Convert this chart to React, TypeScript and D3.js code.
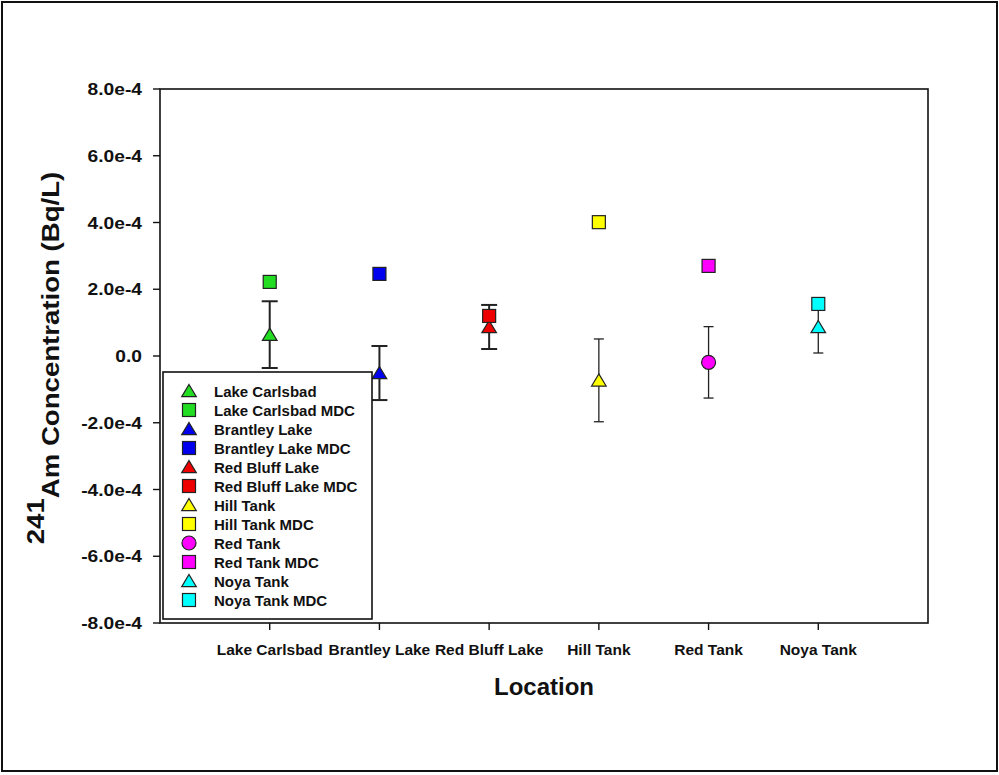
import React from "react";
import * as d3 from "d3";

const locations = ["Lake Carlsbad", "Brantley Lake", "Red Bluff Lake", "Hill Tank", "Red Tank", "Noya Tank"];
const measured = [0.64e-4, -0.51e-4, 0.87e-4, -0.73e-4, -0.19e-4, 0.87e-4];
const errors = [1.0e-4, 0.81e-4, 0.66e-4, 1.24e-4, 1.07e-4, 0.78e-4];
const mdc = [2.22e-4, 2.46e-4, 1.2e-4, 4.01e-4, 2.7e-4, 1.56e-4];
const colors = ["#22dd22", "#0000ee", "#ee0000", "#ffff00", "#ff00ff", "#00ffff"];
const shapes = ["triangle", "triangle", "triangle", "triangle", "circle", "triangle"];
const heavyBars = [true, true, true, false, false, false];
const yTicks = [-8e-4, -6e-4, -4e-4, -2e-4, 0, 2e-4, 4e-4, 6e-4, 8e-4];

const FONT = "'Liberation Sans', Arial, Helvetica, sans-serif";

function Marker({ shape, cx, cy, fill }: { shape: string; cx: number; cy: number; fill: string }) {
  const stroke = "#222";
  if (shape === "square") {
    return <rect x={cx - 6.5} y={cy - 6.5} width={13} height={13} fill={fill} stroke={stroke} strokeWidth={1.2} />;
  }
  if (shape === "circle") {
    return <circle cx={cx} cy={cy} r={7} fill={fill} stroke={stroke} strokeWidth={1.2} />;
  }
  const p = d3.path();
  p.moveTo(cx, cy - 6.5);
  p.lineTo(cx + 7.3, cy + 5.7);
  p.lineTo(cx - 7.3, cy + 5.7);
  p.closePath();
  return <path d={p.toString()} fill={fill} stroke={stroke} strokeWidth={1.2} />;
}

export default function App() {
  const W = 999, H = 775;
  const left = 160, right = 928, top = 89, bottom = 623;
  const x = d3.scaleLinear().domain([0, 7]).range([left, right]);
  const y = d3.scaleLinear().domain([-8e-4, 8e-4]).range([bottom, top]);
  const fmt = (v: number) => (Math.abs(v) < 1e-12 ? "0.0" : `${(v / 1e-4).toFixed(1)}e-4`);

  const legendItems: { label: string; shape: string; color: string }[] = [];
  locations.forEach((loc, i) => {
    legendItems.push({ label: loc, shape: shapes[i], color: colors[i] });
    legendItems.push({ label: loc + " MDC", shape: "square", color: colors[i] });
  });

  return (
    <svg width={W} height={H} style={{ position: "absolute", left: 0, top: 0, background: "#fff" }} fontFamily={FONT}>
      <rect x={2} y={2} width={995} height={769} fill="#fff" stroke="#111" strokeWidth={2} />
      {/* plot frame */}
      <rect x={left} y={top} width={right - left} height={bottom - top} fill="none" stroke="#111" strokeWidth={1.6} />
      {/* y ticks */}
      {yTicks.map((t, i) => (
        <g key={i}>
          <line x1={left - 7} x2={left} y1={y(t)} y2={y(t)} stroke="#111" strokeWidth={1.4} />
          <text
            transform={`translate(142,${y(t) + 6}) scale(1.2,1)`}
            textAnchor="end"
            fontSize={16}
            fontWeight="bold"
            fill="#111"
          >
            {fmt(t)}
          </text>
        </g>
      ))}
      {/* x ticks */}
      {locations.map((loc, i) => (
        <g key={loc}>
          <line x1={x(i + 1)} x2={x(i + 1)} y1={bottom} y2={bottom + 7} stroke="#111" strokeWidth={1.4} />
          <text x={x(i + 1)} y={655} textAnchor="middle" fontSize={15.5} fontWeight="bold" fill="#111">
            {loc}
          </text>
        </g>
      ))}
      {/* axis titles */}
      <text x={(left + right) / 2} y={695} textAnchor="middle" fontSize={24} fontWeight="bold" fill="#111">
        Location
      </text>
      <text
        transform={`translate(59,358) rotate(-90) scale(1.15,1)`}
        textAnchor="middle"
        fontSize={24}
        fontWeight="bold"
        fill="#111"
      >
        <tspan dy={-15}>241</tspan>
        <tspan dy={15}>Am Concentration (Bq/L)</tspan>
      </text>
      {/* data */}
      {locations.map((loc, i) => {
        const cx = x(i + 1);
        const sw = heavyBars[i] ? 2 : 1.3;
        const cw = heavyBars[i] ? 8 : 5;
        const y1 = y(measured[i] + errors[i]);
        const y2 = y(measured[i] - errors[i]);
        return (
          <g key={loc}>
            <line x1={cx} x2={cx} y1={y1} y2={y2} stroke="#222" strokeWidth={sw} />
            <line x1={cx - cw} x2={cx + cw} y1={y1} y2={y1} stroke="#222" strokeWidth={sw} />
            <line x1={cx - cw} x2={cx + cw} y1={y2} y2={y2} stroke="#222" strokeWidth={sw} />
            <Marker shape={shapes[i]} cx={cx} cy={y(measured[i])} fill={colors[i]} />
            <Marker shape="square" cx={cx} cy={y(mdc[i])} fill={colors[i]} />
          </g>
        );
      })}
      {/* legend */}
      <rect x={163} y={372} width={209} height={247} fill="#fff" stroke="#111" strokeWidth={1.6} />
      {legendItems.map((it, k) => {
        const cy = 391 + k * 19;
        return (
          <g key={k}>
            <Marker shape={it.shape} cx={189} cy={cy} fill={it.color} />
            <text x={214} y={cy + 5.5} fontSize={15} fontWeight="bold" fill="#111">
              {it.label}
            </text>
          </g>
        );
      })}
    </svg>
  );
}
